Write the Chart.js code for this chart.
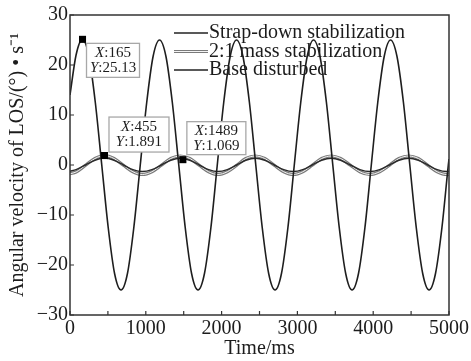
<!DOCTYPE html>
<html>
<head>
<meta charset="utf-8">
<script src="https://cdn.jsdelivr.net/npm/chart.js@4.4.0/dist/chart.umd.min.js"></script>
<style>
  html, body { margin: 0; padding: 0; background: #fff; }
  #wrap { position: relative; width: 471px; height: 361px; }
</style>
</head>
<body>
<div id="wrap"><canvas id="chart" width="471" height="361"></canvas></div>
<script>
// time axis (ms) and values
const strapTime = [0, 80, 165, 250, 334, 419, 504, 588, 673, 758, 842, 927, 1012, 1096,
  1181, 1266, 1350, 1435, 1520, 1604, 1689, 1774, 1859, 1943, 2028, 2113,
  2197, 2282, 2367, 2451, 2536, 2621, 2705, 2790, 2875, 2959, 3044, 3129,
  3213, 3298, 3383, 3467, 3552, 3637, 3721, 3806, 3891, 3975, 4060, 4145,
  4229, 4314, 4399, 4483, 4568, 4653, 4737, 4822, 4907, 4991, 5000];
const strapValue = [14, 22, 25.13, 21.7, 12.5, 0, -12.5, -21.7, -25, -21.7, -12.5, 0, 12.5, 21.7,
  25, 21.7, 12.5, 0, -12.5, -21.7, -25, -21.7, -12.5, 0, 12.5, 21.7,
  25, 21.7, 12.5, 0, -12.5, -21.7, -25, -21.7, -12.5, 0, 12.5, 21.7,
  25, 21.7, 12.5, 0, -12.5, -21.7, -25, -21.7, -12.5, 0, 12.5, 21.7,
  25, 21.7, 12.5, 0, -12.5, -21.7, -25, -21.7, -12.5, 0, 1.2];

const smallTime = [0, 80, 205, 330, 455, 580, 705, 830, 955, 1080, 1205, 1330, 1455, 1580,
  1705, 1830, 1950, 2075, 2200, 2320, 2445, 2570, 2695, 2820, 2945, 3070,
  3195, 3320, 3445, 3570, 3700, 3825, 3955, 4085, 4215, 4340, 4470, 4595,
  4720, 4845, 4970, 5000];
const massValue = [-1.75, -1.4, -0.05, 1.3, 1.891, 1.3, -0.05, -1.35, -1.9, -1.35, -0.05, 1.3, 1.8, 1.3,
  -0.05, -1.35, -1.9, -1.35, -0.05, 1.3, 1.8, 1.3, -0.05, -1.35, -1.9, -1.35,
  -0.05, 1.3, 1.8, 1.3, -0.05, -1.35, -1.9, -1.35, -0.05, 1.3, 1.8, 1.3,
  -0.05, -1.35, -1.9, -1.85];
const baseValue = [-1.25, -0.92, 0, 0.95, 1.4, 0.95, 0, -0.92, -1.3, -0.92, 0, 0.95, 1.35, 0.95,
  0, -0.92, -1.3, -0.92, 0, 0.95, 1.35, 0.95, 0, -0.92, -1.3, -0.92,
  0, 0.95, 1.35, 0.95, 0, -0.92, -1.3, -0.92, 0, 0.95, 1.35, 0.95,
  0, -0.92, -1.3, -1.28];

const markerTime = [165, 455, 1489];
const markerValue = [25.13, 1.891, 1.069];

const legendLabels = ['Strap-down stabilization', '2:1 mass stabilization', 'Base disturbed'];
const xTickValues = [0, 500, 1000, 1500, 2000, 2500, 3000, 3500, 4000, 4500, 5000];
const yTickValues = [-30, -20, -10, 0, 10, 20, 30];
const xTitle = 'Time/ms';
const yTitle = 'Angular velocity of LOS/(°) • s⁻¹';

const SERIF = "'Liberation Serif', 'Times New Roman', serif";
const INK = '#1c1c1c';

const toXY = (xs, ys) => xs.map((x, i) => ({ x: x, y: ys[i] }));

// box placement next to each marker (offset from marker, size)
const tipBoxes = [
  { dx: 4, dy: 4, w: 53, h: 34 },
  { dx: 4.5, dy: -38.5, w: 60, h: 35 },
  { dx: 4, dy: -38, w: 59, h: 33 }
];

const framePlugin = {
  id: 'frame',
  afterDatasetsDraw(chart) {
    const { ctx, chartArea: a, scales } = chart;
    ctx.save();
    ctx.strokeStyle = '#333';
    ctx.lineWidth = 1.5;
    ctx.strokeRect(a.left, a.top, a.right - a.left, a.bottom - a.top);
    ctx.lineWidth = 1.2;
    ctx.beginPath();
    scales.x.ticks.forEach(t => {
      const px = scales.x.getPixelForValue(t.value);
      ctx.moveTo(px, a.bottom);
      ctx.lineTo(px, a.bottom - 4);
    });
    scales.y.ticks.forEach(t => {
      const py = scales.y.getPixelForValue(t.value);
      ctx.moveTo(a.left, py);
      ctx.lineTo(a.left + 4, py);
    });
    ctx.stroke();
    ctx.restore();
  }
};

const legendPlugin = {
  id: 'innerLegend',
  afterDraw(chart) {
    const { ctx, chartArea: a } = chart;
    const x0 = a.left + 104, x1 = a.left + 138;
    const rows = [a.top + 18, a.top + 36.5, a.top + 55];
    ctx.save();
    rows.forEach((y, i) => {
      if (i === 1) {
        ctx.strokeStyle = '#7a7a7a'; ctx.lineWidth = 3.2;
        ctx.beginPath(); ctx.moveTo(x0, y); ctx.lineTo(x1, y); ctx.stroke();
        ctx.strokeStyle = '#f4f4f4'; ctx.lineWidth = 1;
        ctx.beginPath(); ctx.moveTo(x0, y); ctx.lineTo(x1, y); ctx.stroke();
      } else {
        ctx.strokeStyle = '#222'; ctx.lineWidth = 1.6;
        ctx.beginPath(); ctx.moveTo(x0, y); ctx.lineTo(x1, y); ctx.stroke();
      }
      ctx.fillStyle = INK;
      ctx.font = '20px ' + SERIF;
      ctx.textBaseline = 'middle';
      ctx.textAlign = 'left';
      ctx.fillText(legendLabels[i], x1 + 1, y);
    });
    ctx.restore();
  }
};

const tipPlugin = {
  id: 'dataTips',
  afterDraw(chart) {
    const { ctx, scales } = chart;
    ctx.save();
    markerTime.forEach((t, i) => {
      const px = scales.x.getPixelForValue(t);
      const py = scales.y.getPixelForValue(markerValue[i]);
      const b = tipBoxes[i];
      const bx = px + b.dx, by = py + b.dy;
      ctx.fillStyle = '#fff';
      ctx.fillRect(bx, by, b.w, b.h);
      ctx.strokeStyle = '#a8a8a8';
      ctx.lineWidth = 1.3;
      ctx.strokeRect(bx, by, b.w, b.h);
      const lines = [['X', ':' + t], ['Y', ':' + markerValue[i]]];
      ctx.textBaseline = 'middle';
      ctx.fillStyle = INK;
      lines.forEach((parts, k) => {
        ctx.font = 'italic 15px ' + SERIF;
        const w0 = ctx.measureText(parts[0]).width;
        ctx.font = '15px ' + SERIF;
        const w1 = ctx.measureText(parts[1]).width;
        const tx = bx + (b.w - w0 - w1) / 2;
        const ty = by + b.h / 2 + (k === 0 ? -7.5 : 7.5);
        ctx.font = 'italic 15px ' + SERIF;
        ctx.fillText(parts[0], tx, ty);
        ctx.font = '15px ' + SERIF;
        ctx.fillText(parts[1], tx + w0, ty);
      });
    });
    ctx.restore();
  }
};

const lineBase = { pointRadius: 0, fill: false, cubicInterpolationMode: 'monotone' };

new Chart(document.getElementById('chart'), {
  type: 'line',
  data: {
    datasets: [
      { label: 'data tips', data: toXY(markerTime, markerValue), showLine: false,
        pointStyle: 'rect', pointRadius: 5, pointBackgroundColor: '#000', pointBorderColor: '#000',
        pointBorderWidth: 0, order: 0 },
      Object.assign({ label: legendLabels[0], data: toXY(strapTime, strapValue),
        borderColor: '#1e1e1e', borderWidth: 1.6, order: 1 }, lineBase),
      Object.assign({ label: legendLabels[2], data: toXY(smallTime, baseValue),
        borderColor: '#2a2a2a', borderWidth: 1.4, order: 2 }, lineBase),
      Object.assign({ label: 'mass core', data: toXY(smallTime, massValue),
        borderColor: '#f4f4f4', borderWidth: 1, order: 3 }, lineBase),
      Object.assign({ label: legendLabels[1], data: toXY(smallTime, massValue),
        borderColor: '#7a7a7a', borderWidth: 3.2, order: 4 }, lineBase)
    ]
  },
  options: {
    responsive: false,
    animation: false,
    devicePixelRatio: 1,
    layout: { padding: { top: 15, right: 22, left: 0, bottom: 0 } },
    plugins: { legend: { display: false }, tooltip: { enabled: false } },
    scales: {
      x: {
        type: 'linear', min: 0, max: 5000,
        afterBuildTicks: s => { s.ticks = xTickValues.map(v => ({ value: v })); },
        afterFit: s => { s.height = 46; },
        grid: { display: false, drawTicks: false },
        border: { display: false },
        ticks: {
          autoSkip: false, maxRotation: 0, padding: 2, color: INK,
          font: { family: SERIF, size: 20 },
          callback: v => (v % 1000 === 0 ? String(v) : '')
        },
        title: { display: true, text: xTitle, color: INK, padding: { top: 0, bottom: 0 },
          font: { family: SERIF, size: 20 } }
      },
      y: {
        min: -30, max: 30,
        afterBuildTicks: s => { s.ticks = yTickValues.map(v => ({ value: v })); },
        afterFit: s => { s.width = 70; },
        grid: { display: false, drawTicks: false },
        border: { display: false },
        ticks: {
          padding: 2, color: INK,
          font: { family: SERIF, size: 20 },
          callback: v => (v < 0 ? '\u2212' + Math.abs(v) : String(v))
        },
        title: { display: true, text: yTitle, color: INK, padding: { top: 6, bottom: 0 },
          font: { family: SERIF, size: 20 } }
      }
    }
  },
  plugins: [framePlugin, legendPlugin, tipPlugin]
});
</script>
</body>
</html>
